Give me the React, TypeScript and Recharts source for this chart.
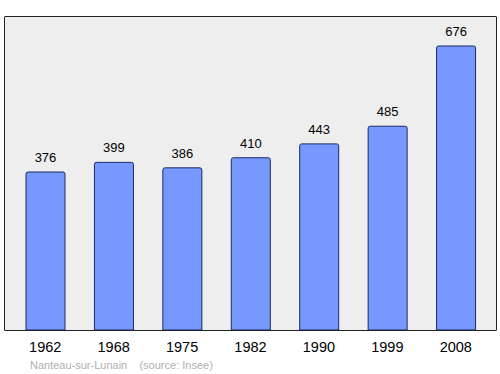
import React from 'react';
import { BarChart, Bar, XAxis, YAxis, CartesianGrid, LabelList } from 'recharts';

const years = ['1962', '1968', '1975', '1982', '1990', '1999', '2008'];
const population = [376, 399, 386, 410, 443, 485, 676];

const data = years.map((year, i) => ({ year, population: population[i] }));

const font = 'Liberation Sans, Arial, sans-serif';

const App: React.FC = () => {
  return (
    <div style={{ position: 'absolute', left: 0, top: 0, width: 500, height: 374, background: '#fff' }}>
      <BarChart
        width={500}
        height={374}
        data={data}
        margin={{ top: 17, right: 4, bottom: 0, left: 5 }}
        barCategoryGap={0}
      >
        <CartesianGrid fill="#eeeeee" horizontal={false} vertical={false} />
        <XAxis
          dataKey="year"
          height={44}
          padding={{ left: 6, right: 6 }}
          tickLine={false}
          tickSize={0}
          tickMargin={12}
          axisLine={false}
          tick={{ fontSize: 14.5, fill: '#000', fontFamily: font }}
        />
        <YAxis domain={[0, 745]} hide />
        <Bar
          dataKey="population"
          fill="#7799ff"
          stroke="#1a2a66"
          strokeWidth={1}
          barSize={39}
          radius={[2, 2, 0, 0]}
          isAnimationActive={false}
        >
          <LabelList
            dataKey="population"
            position="top"
            offset={10}
            style={{ fontSize: 13, fill: '#000', fontFamily: font }}
          />
        </Bar>
      </BarChart>
      {/* frame around the plot area */}
      <div
        style={{
          position: 'absolute',
          left: 4,
          top: 16,
          width: 491,
          height: 313,
          border: '1.5px solid #222',
          borderRadius: 1,
          pointerEvents: 'none',
        }}
      />
      <div
        style={{
          position: 'absolute',
          left: 30,
          top: 359,
          fontSize: 11,
          color: '#b0b0b0',
          fontFamily: font,
          whiteSpace: 'pre',
        }}
      >
        {'Nanteau-sur-Lunain    (source: Insee)'}
      </div>
    </div>
  );
};

export default App;
